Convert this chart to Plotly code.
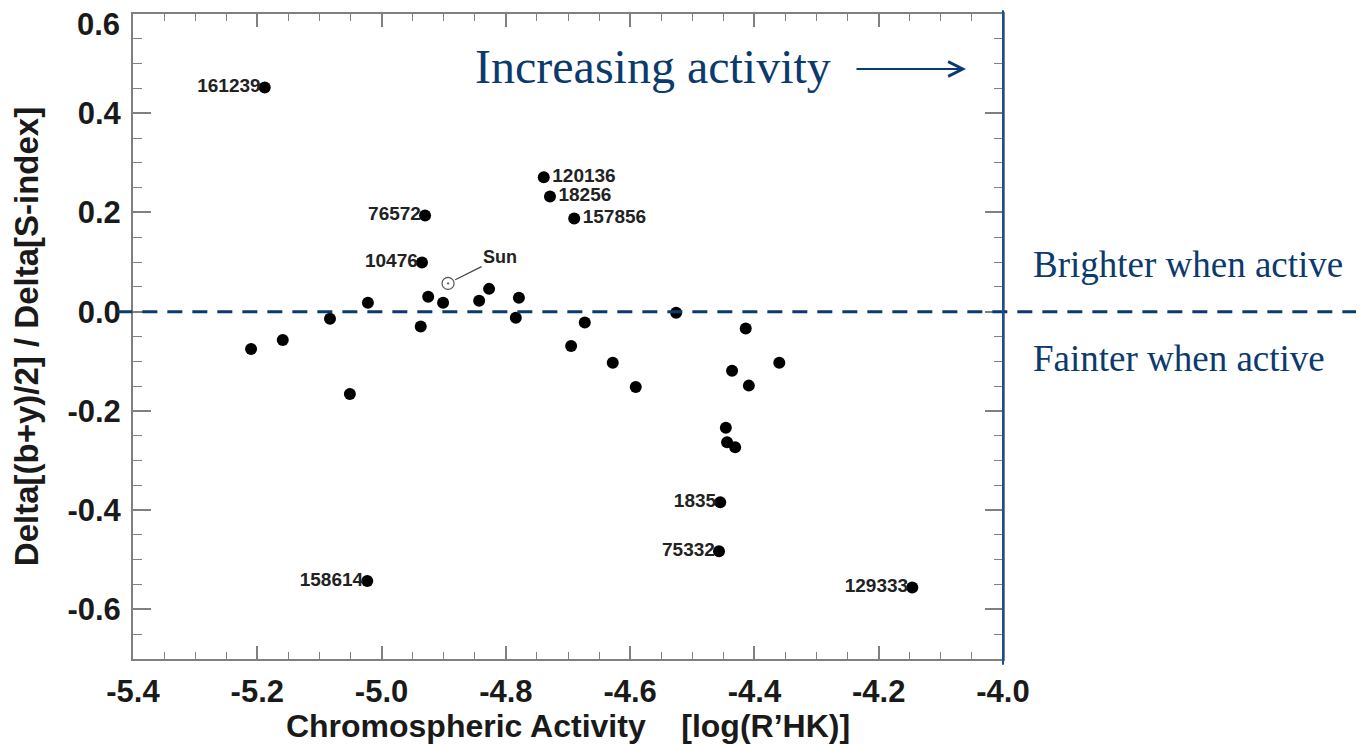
import plotly.graph_objects as go

# ---- data ----
labelled_names = ["161239", "120136", "18256", "157856", "76572", "10476",
                  "158614", "129333", "1835", "75332"]
labelled_x = [-5.188, -4.739, -4.729, -4.690, -4.930, -4.935,
              -5.023, -4.146, -4.455, -4.457]
labelled_y = [0.452, 0.271, 0.232, 0.188, 0.194, 0.099,
              -0.543, -0.556, -0.384, -0.483]
labelled_side = ["middle left", "middle right", "middle right", "middle right",
                 "middle left", "middle left", "middle left", "middle left",
                 "middle left", "middle left"]

other_x = [-5.210, -5.159, -5.083, -5.051, -5.022, -4.937, -4.925, -4.901,
           -4.843, -4.827, -4.784, -4.779, -4.695, -4.673, -4.628, -4.591,
           -4.526, -4.446, -4.444, -4.431, -4.436, -4.414, -4.409, -4.360]
other_y = [-0.075, -0.057, -0.014, -0.166, 0.018, -0.030, 0.030, 0.018,
           0.022, 0.046, -0.012, 0.028, -0.069, -0.022, -0.103, -0.152,
           -0.002, -0.234, -0.263, -0.273, -0.119, -0.034, -0.149, -0.103]

sun_x = [-4.893]
sun_y = [0.057]

x_tick_vals = [-5.4, -5.2, -5.0, -4.8, -4.6, -4.4, -4.2, -4.0]
x_tick_text = ["-5.4", "-5.2", "-5.0", "-4.8", "-4.6", "-4.4", "-4.2", "-4.0"]
y_tick_vals = [-0.6, -0.4, -0.2, 0.0, 0.2, 0.4, 0.6]
y_tick_text = ["-0.6", "-0.4", "-0.2", "0.0", "0.2", "0.4", "0.6"]

NAVY = "#0b3a6e"
AXIS = "#808080"
SANS = "Arial, Liberation Sans, sans-serif"

fig = go.Figure()

all_x = other_x + labelled_x
all_y = other_y + labelled_y
fig.add_trace(go.Scatter(
    x=all_x, y=all_y, mode="markers",
    marker=dict(size=12, color="black"), showlegend=False, hoverinfo="skip"))

# labels: invisible markers control the gap between dot and text
for side, msize in (("middle left", 5), ("middle right", 12)):
    idx = [i for i, s in enumerate(labelled_side) if s == side]
    fig.add_trace(go.Scatter(
        x=[labelled_x[i] for i in idx], y=[labelled_y[i] for i in idx],
        mode="markers+text", text=[labelled_names[i] for i in idx], textposition=side,
        texttemplate="<b>%{text}</b>",
        textfont=dict(family=SANS, size=19, color="#222"),
        marker=dict(size=msize, color="rgba(0,0,0,0)"),
        showlegend=False, hoverinfo="skip"))

fig.add_trace(go.Scatter(
    x=sun_x, y=sun_y, mode="markers",
    marker=dict(size=12, symbol="circle-open-dot", color="#555",
                line=dict(color="#555", width=1.2)),
    showlegend=False, hoverinfo="skip"))

fig.add_annotation(x=sun_x[0], y=sun_y[0], xref="x", yref="y",
                   text="<b>Sun</b>", showarrow=True, arrowhead=0,
                   arrowwidth=1.2, arrowcolor="#444", ax=52, ay=-26,
                   standoff=8, font=dict(family=SANS, size=18, color="#222"))

# zero line (dashed, navy), extending past the plot to the right
fig.add_shape(type="line", xref="paper", yref="y", x0=-0.018, x1=1.42, y0=0, y1=0,
              line=dict(color=NAVY, width=3, dash="15px,10px"), layer="above")

# right blue border line
fig.add_shape(type="line", xref="paper", yref="paper", x0=1.0, x1=1.0,
              y0=-0.009, y1=1.006, line=dict(color="#1d4f8c", width=2), layer="above")

serif = "Liberation Serif, Times New Roman, serif"
fig.add_annotation(xref="paper", yref="paper", x=(473 - 133) / 870, y=(659 - 66) / 645,
                   xanchor="left", yanchor="middle", text="Increasing activity",
                   showarrow=False, font=dict(family=serif, size=48, color=NAVY))
fig.add_annotation(xref="paper", yref="paper", x=(966 - 133) / 870, y=(659 - 69) / 645,
                   ax=-111, ay=0, text="", showarrow=True, arrowhead=5,
                   arrowsize=1.6, arrowwidth=1.8, arrowcolor=NAVY)
fig.add_annotation(xref="paper", yref="paper", x=(1031 - 133) / 870, y=(659 - 264) / 645,
                   xanchor="left", yanchor="middle", text="Brighter when active",
                   showarrow=False, font=dict(family=serif, size=37, color=NAVY))
fig.add_annotation(xref="paper", yref="paper", x=(1031 - 133) / 870, y=(659 - 358) / 645,
                   xanchor="left", yanchor="middle", text="Fainter when active",
                   showarrow=False, font=dict(family=serif, size=37, color=NAVY))

tickfont = dict(family=SANS, size=31, color="#1a1a1a")
xtitlefont = dict(family=SANS, size=32, color="#1a1a1a")
ytitlefont = dict(family=SANS, size=33, color="#1a1a1a")

# top y tick label sits just below the frame top in the reference
y_tick_shown = [f"<b>{t}</b>" for t in y_tick_text[:-1]] + [""]
fig.add_annotation(xref="paper", yref="y", x=0, y=y_tick_vals[-1], xanchor="right",
                   yanchor="middle", xshift=-11, yshift=-10, height=28, showarrow=False,
                   text=f"<b>{y_tick_text[-1]}</b>", font=tickfont)

fig.update_xaxes(
    range=[-5.4, -4.0], tickvals=x_tick_vals, ticktext=[f"<b>{t}</b>" for t in x_tick_text],
    ticks="inside", ticklen=13, tickwidth=1.5, tickcolor=AXIS, ticklabelstandoff=4,
    minor=dict(dtick=0.05, ticks="inside", ticklen=7, tickwidth=1.2, tickcolor=AXIS),
    showline=True, linecolor=AXIS, linewidth=2, mirror="ticks",
    showgrid=False, zeroline=False, tickfont=tickfont,
    title=dict(text="<b>Chromospheric Activity    [log(R’HK)]</b>", font=xtitlefont, standoff=8),
    automargin=False)
fig.update_yaxes(
    range=[-0.7, 0.6], tickvals=y_tick_vals, ticktext=y_tick_shown,
    ticks="inside", ticklen=18, tickwidth=1.5, tickcolor=AXIS, ticklabelstandoff=4,
    minor=dict(dtick=0.05, ticks="inside", ticklen=9, tickwidth=1.2, tickcolor=AXIS),
    showline=True, linecolor=AXIS, linewidth=2, mirror="ticks",
    showgrid=False, zeroline=False, tickfont=tickfont,
    title=dict(text="<b>Delta[(b+y)/2] / Delta[S-index]</b>", font=ytitlefont, standoff=20),
    automargin=False)

fig.update_layout(
    width=1356, height=736,
    margin=dict(l=125, r=361, t=6, b=85),
    paper_bgcolor="white", plot_bgcolor="white",
    showlegend=False)

fig.write_html("out.html")
